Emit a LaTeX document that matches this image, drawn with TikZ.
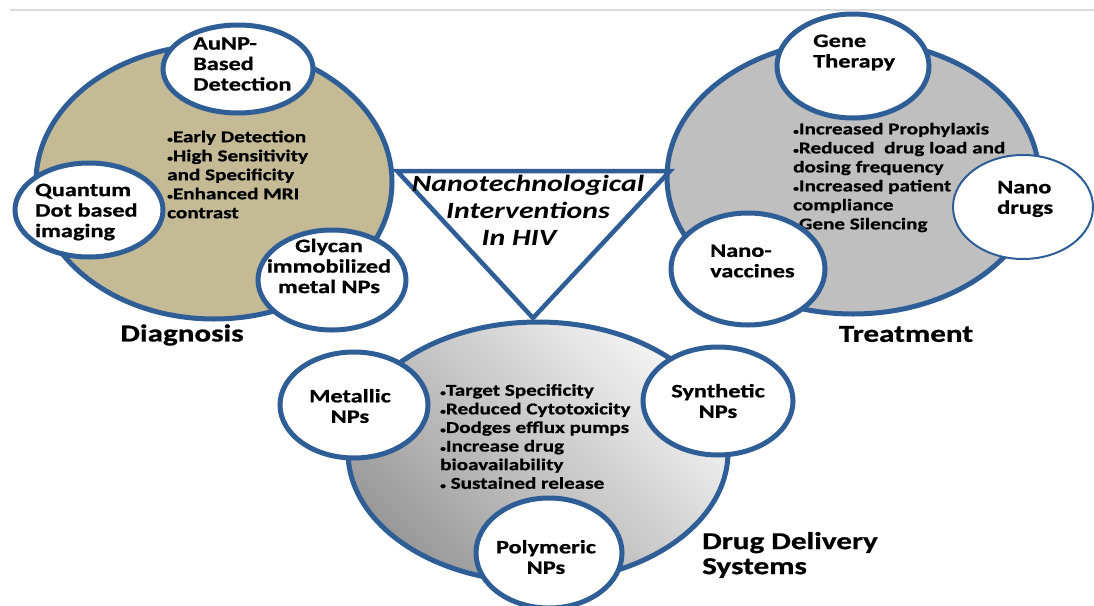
\documentclass[tikz,border=0pt]{standalone}
\usepackage{fontspec}
\setmainfont{Carlito}[FakeStretch=1.28, BoldFeatures={FakeBold=0.8}]
\usetikzlibrary{shapes.geometric}
\definecolor{blueb}{HTML}{2F5E96}
\definecolor{olivef}{HTML}{C4BA96}
\definecolor{grayf}{HTML}{BFBFBF}
\definecolor{rulec}{HTML}{D8DCDC}
\begin{document}
\begin{tikzpicture}[x=1pt,y=-1pt,
  bigell/.style={ellipse, draw=blueb, line width=5pt, inner sep=0pt},
  small/.style={ellipse, draw=blueb, line width=5pt, fill=white, inner sep=0pt},
  lbl/.style={font=\fontsize{19}{20.5}\selectfont\bfseries, inner sep=0pt},
  bul/.style={font=\fontsize{16.5}{19}\selectfont\bfseries, align=left, anchor=west, inner sep=0pt},
  title/.style={font=\fontsize{24.3}{25}\selectfont\bfseries, inner sep=0pt},
  tri/.style={draw=blueb, line width=4.5pt, line join=miter}]
\useasboundingbox (0,0) rectangle (1094,605);
\fill[white] (0,0) rectangle (1094,605);
\draw[rulec, line width=1.5pt] (10,10) -- (1094,10);
% big ellipses
\node[bigell, fill=olivef, minimum width=356pt, minimum height=274pt] (diag) at (214,182) {};
\node[bigell, fill=grayf, minimum width=372pt, minimum height=274pt] (treat) at (853,177) {};
\node[bigell, top color=black!4, bottom color=black!40, shading angle=-45, minimum width=380pt, minimum height=260pt] (dds) at (538,452) {};
% triangle
\coordinate (tA) at (397,171);
\coordinate (tB) at (670,171);
\coordinate (tC) at (533,318);
\draw[tri] (tA) -- (tB) -- (tC) -- cycle;
\node[font=\fontsize{23.3}{27}\selectfont\bfseries\itshape, align=center, inner sep=0pt] (nano) at (528,210) {Nanotechnological\\Interventions\\In HIV\hspace*{18pt}};
% bullets
\node[bul] (dbul) at (167,174.5) {{\small\textbullet}Early Detection\\{\small\textbullet}High Sensitivity\\and Specificity\\{\small\textbullet}Enhanced MRI\\contrast};
\node[bul] (tbul) at (793,177.5) {{\small\textbullet}Increased Prophylaxis\\{\small\textbullet}Reduced\ \ drug load and\\dosing frequency\\{\small\textbullet}Increased patient\\compliance\\{\small\textbullet}Gene Silencing};
\node[bul, font=\fontsize{16.5}{18.6}\selectfont\bfseries] (ddbul) at (440,436.5) {{\small\textbullet}Target Specificity\\{\small\textbullet}Reduced Cytotoxicity\\{\small\textbullet}Dodges efflux pumps\\{\small\textbullet}Increase drug\\bioavailability\\{\small\textbullet} Sustained release};
% small circles
\node[small, minimum width=150pt, minimum height=88pt] (aunp) at (238,69) {};
\node[small, minimum width=148pt, minimum height=94pt] (qd) at (89,210) {};
\node[small, minimum width=148pt, minimum height=100pt] (gly) at (332,280) {};
\node[small, minimum width=152pt, minimum height=104pt] (gene) at (853,66) {};
\node[small, line width=2pt, minimum width=140pt, minimum height=104pt] (ndrug) at (1023,207) {};
\node[small, minimum width=154pt, minimum height=112pt] (nvac) at (748,269) {};
\node[small, minimum width=148pt, minimum height=106pt] (metal) at (354,405) {};
\node[small, minimum width=150pt, minimum height=108pt] (synth) at (718,401) {};
\node[small, minimum width=146pt, minimum height=110pt] (poly) at (549,553) {};
% circle labels
\node[lbl, align=left, anchor=west] (aunpt) at (193,64) {AuNP-\\Based\\Detection};
\node[lbl, align=left, anchor=west] (qdt) at (35,212) {Quantum\\Dot based\\imaging};
\node[lbl, align=center] (glyt) at (329,266) {Glycan\\immobilized\\metal NPs};
\node[lbl, align=left, anchor=west] (genet) at (813,52.5) {Gene\\Therapy};
\node[lbl, align=left, anchor=west] (ndrugt) at (997,199) {Nano\\drugs};
\node[lbl, align=left, anchor=west] (nvact) at (710,261) {Nano-\\vaccines};
\node[lbl, align=center] (metalt) at (350,406) {Metallic\\NPs};
\node[lbl, align=center] (syntht) at (718,401) {Synthetic\\NPs};
\node[lbl, align=center] (polyt) at (546,557) {Polymeric\\NPs};
% titles
\node[title] (diagt) at (182,335) {Diagnosis};
\node[title] (treatt) at (906,334) {Treatment};
\node[title, align=left, anchor=west] (ddst) at (702,555) {Drug Delivery\\Systems};
\end{tikzpicture}
\end{document}
